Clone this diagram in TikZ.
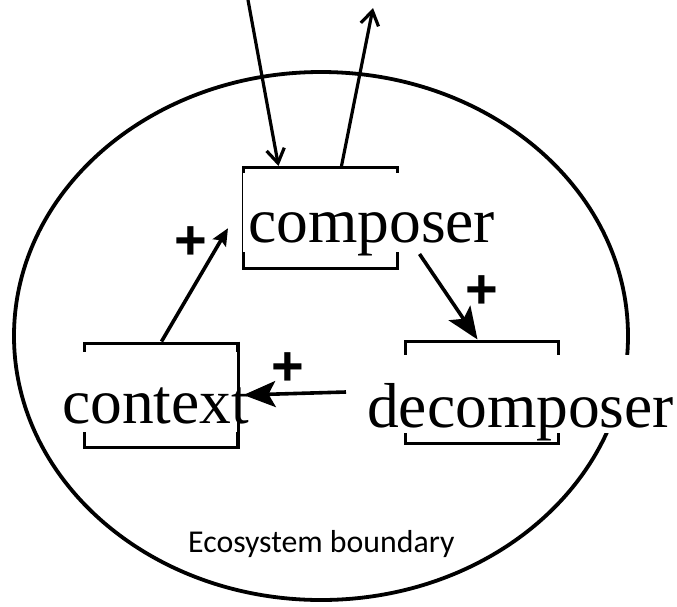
\documentclass[tikz,border=0pt]{standalone}
\usepackage{fontspec}
\setmainfont{Liberation Serif}
\newfontfamily\signfont{Liberation Sans}
\newfontfamily\notefont{Carlito}
\usepackage{tikz}
\usetikzlibrary{calc,positioning,arrows.meta}

\begin{document}
\begin{tikzpicture}[x=1pt,y=-1pt,
        blk/.style={rectangle,draw,line width=3pt,inner sep=0pt},
        lbl/.style={fill=white,inner xsep=5pt,inner ysep=0pt,anchor=base west,
                    font=\fontsize{63.5}{70}\selectfont},
        sgn/.style={font=\signfont\bfseries\fontsize{56}{56}\selectfont,inner sep=0pt},
        flow/.style={line width=3.2pt,-{Straight Barb[length=14pt,width=18pt]}},
        feed/.style={line width=3.6pt,-{Stealth[length=32pt,width=26pt,inset=7pt]}}]
    \useasboundingbox (0,0) rectangle (677,606);

    % ecosystem boundary
    \draw[line width=3.8pt] (321,336) ellipse [x radius=307,y radius=264];
    \node[font=\notefont\fontsize{31.8}{32}\selectfont,anchor=base west,inner sep=0pt]
        (eco) at (188,552) {Ecosystem boundary};

    % the three units
    \node[blk,minimum width=154pt,minimum height=101pt] (cmpbox) at (320,218) {};
    \node[blk,minimum width=153pt,minimum height=104pt] (ctxbox) at (160.5,395) {};
    \node[blk,minimum width=153pt,minimum height=102pt] (decbox) at (481.5,392) {};

    \node[lbl,text height=69pt,text depth=10pt] (cmplabel) at (243,242) {composer};
    \node[lbl,text height=71pt,text depth=9pt] (ctxlabel) at (57,423) {context};
    \node[lbl,text height=72pt,text depth=6pt,inner xsep=3pt] (declabel) at (364,427) {decomposer};
    \draw[line width=3pt] (ctxbox.north east) -- (ctxbox.south east);

    % exchange across the boundary
    \coordinate (inflow) at (248,0);
    \coordinate (outflow) at (373,8);
    \draw[flow] (inflow) -- ([xshift=37pt]cmpbox.north west);
    \draw[flow] ([xshift=100pt]cmpbox.north west) -- (outflow);

    % positive loop
    \draw[line width=3.6pt,-{Stealth[length=17pt,width=15pt,inset=3pt]}]
        ([xshift=79pt]ctxbox.north west) -- ($(cmplabel.south west)+(-15,-24)$);
    \draw[feed] ($(cmpbox.south east)+(21,-16)$) -- ([xshift=-4pt]decbox.north);
    \draw[feed] ($(declabel.west)+(-18,-2)$) -- ([xshift=5pt]ctxbox.east);

    \node[sgn] (p1) at (191,243) {+};
    \node[sgn] (p2) at (482,292) {+};
    \node[sgn] (p3) at (288,369) {+};
\end{tikzpicture}
\end{document}
